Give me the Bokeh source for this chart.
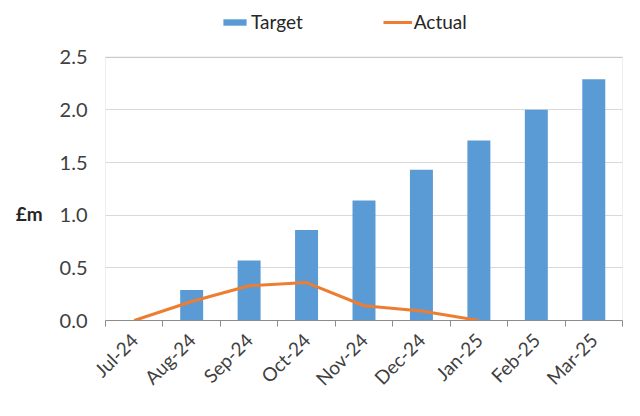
import math
from bokeh.plotting import figure
from bokeh.models import (ColumnDataSource, FixedTicker, Legend, LegendItem, Range1d, BoxAnnotation)
from bokeh.embed import file_html
from bokeh.resources import INLINE

months = ["Jul-24", "Aug-24", "Sep-24", "Oct-24", "Nov-24", "Dec-24", "Jan-25", "Feb-25", "Mar-25"]
target = [0.0, 0.29, 0.57, 0.86, 1.14, 1.43, 1.71, 2.00, 2.29]
actual = [0.0, 0.18, 0.33, 0.36, 0.14, 0.09, 0.0, float("nan"), float("nan")]
y_ticks = [0.0, 0.5, 1.0, 1.5, 2.0, 2.5]

FONT = "Lato"
Y_MAX = 2.5
centers = [i + 0.5 for i in range(len(months))]
src = ColumnDataSource(dict(x=centers, target=target, actual=actual))

# frame extends above the plot area to hold the legend
PLOT_H = 265          # px of the 0..2.5 area
FRAME_H = 318         # px of the whole frame
y_end = Y_MAX * FRAME_H / PLOT_H

p = figure(width=624, height=400, output_backend="svg", toolbar_location=None,
           x_range=Range1d(0, len(months)), y_range=Range1d(0, y_end),
           min_border_left=105, min_border_right=2, min_border_top=4, min_border_bottom=76)
p.background_fill_color = "white"
p.border_fill_color = "white"
p.outline_line_color = None

bars = p.vbar(x="x", top="target", width=0.4, source=src, fill_color="#5B9BD5", line_color=None)
line = p.line(x="x", y="actual", source=src, line_color="#ED7D31", line_width=3)

box = BoxAnnotation(left=0, right=len(months), bottom=0, top=Y_MAX,
                    fill_alpha=0, line_color="#8c8c8c", line_width=1, level="underlay")
p.add_layout(box)

# x axis
p.xaxis.ticker = FixedTicker(ticks=centers, minor_ticks=list(range(len(months) + 1)))
p.xaxis.major_label_overrides = {c: m for c, m in zip(centers, months)}
p.xaxis.major_tick_line_color = None
p.xaxis.minor_tick_line_color = "#8c8c8c"
p.xaxis.minor_tick_in = 0
p.xaxis.minor_tick_out = 6
p.xaxis.major_label_orientation = math.pi / 4
p.xaxis.major_label_text_font = FONT
p.xaxis.major_label_text_font_size = "19px"
p.xaxis.major_label_text_color = "#404040"
p.xaxis.axis_line_color = "#8c8c8c"
p.xaxis.major_label_standoff = 10

# y axis
p.yaxis.ticker = FixedTicker(ticks=y_ticks)
p.yaxis.major_label_overrides = {v: f"{v:.1f}" for v in y_ticks}
p.yaxis.major_tick_line_color = None
p.yaxis.minor_tick_line_color = None
p.yaxis.axis_line_color = None
p.yaxis.major_label_text_font = FONT
p.yaxis.major_label_text_font_size = "20px"
p.yaxis.major_label_text_color = "#404040"
p.yaxis.major_label_standoff = 12
p.yaxis.axis_label = "\n\n\n\n£m"
p.yaxis.axis_label_text_font = FONT
p.yaxis.axis_label_text_font_size = "19px"
p.yaxis.axis_label_text_font_style = "bold"
p.yaxis.axis_label_text_color = "#262626"
p.yaxis.axis_label_text_line_height = 1.1
p.yaxis.axis_label_standoff = 14
if "axis_label_orientation" in p.yaxis[0].properties():
    p.yaxis.axis_label_orientation = "horizontal"

p.xgrid.grid_line_color = None
p.ygrid.ticker = FixedTicker(ticks=y_ticks)
p.ygrid.grid_line_color = "#d9d9d9"

legend = Legend(items=[LegendItem(label="Target", renderers=[bars]),
                       LegendItem(label="Actual", renderers=[line])],
                orientation="horizontal", location=(115, 287),
                glyph_width=29, glyph_height=8, label_standoff=2, spacing=80,
                padding=0, margin=0, border_line_color=None, background_fill_alpha=0,
                label_text_font=FONT, label_text_font_size="19px", label_text_color="#262626")
p.add_layout(legend, "center")

open("out.html", "w").write(file_html(p, INLINE))
